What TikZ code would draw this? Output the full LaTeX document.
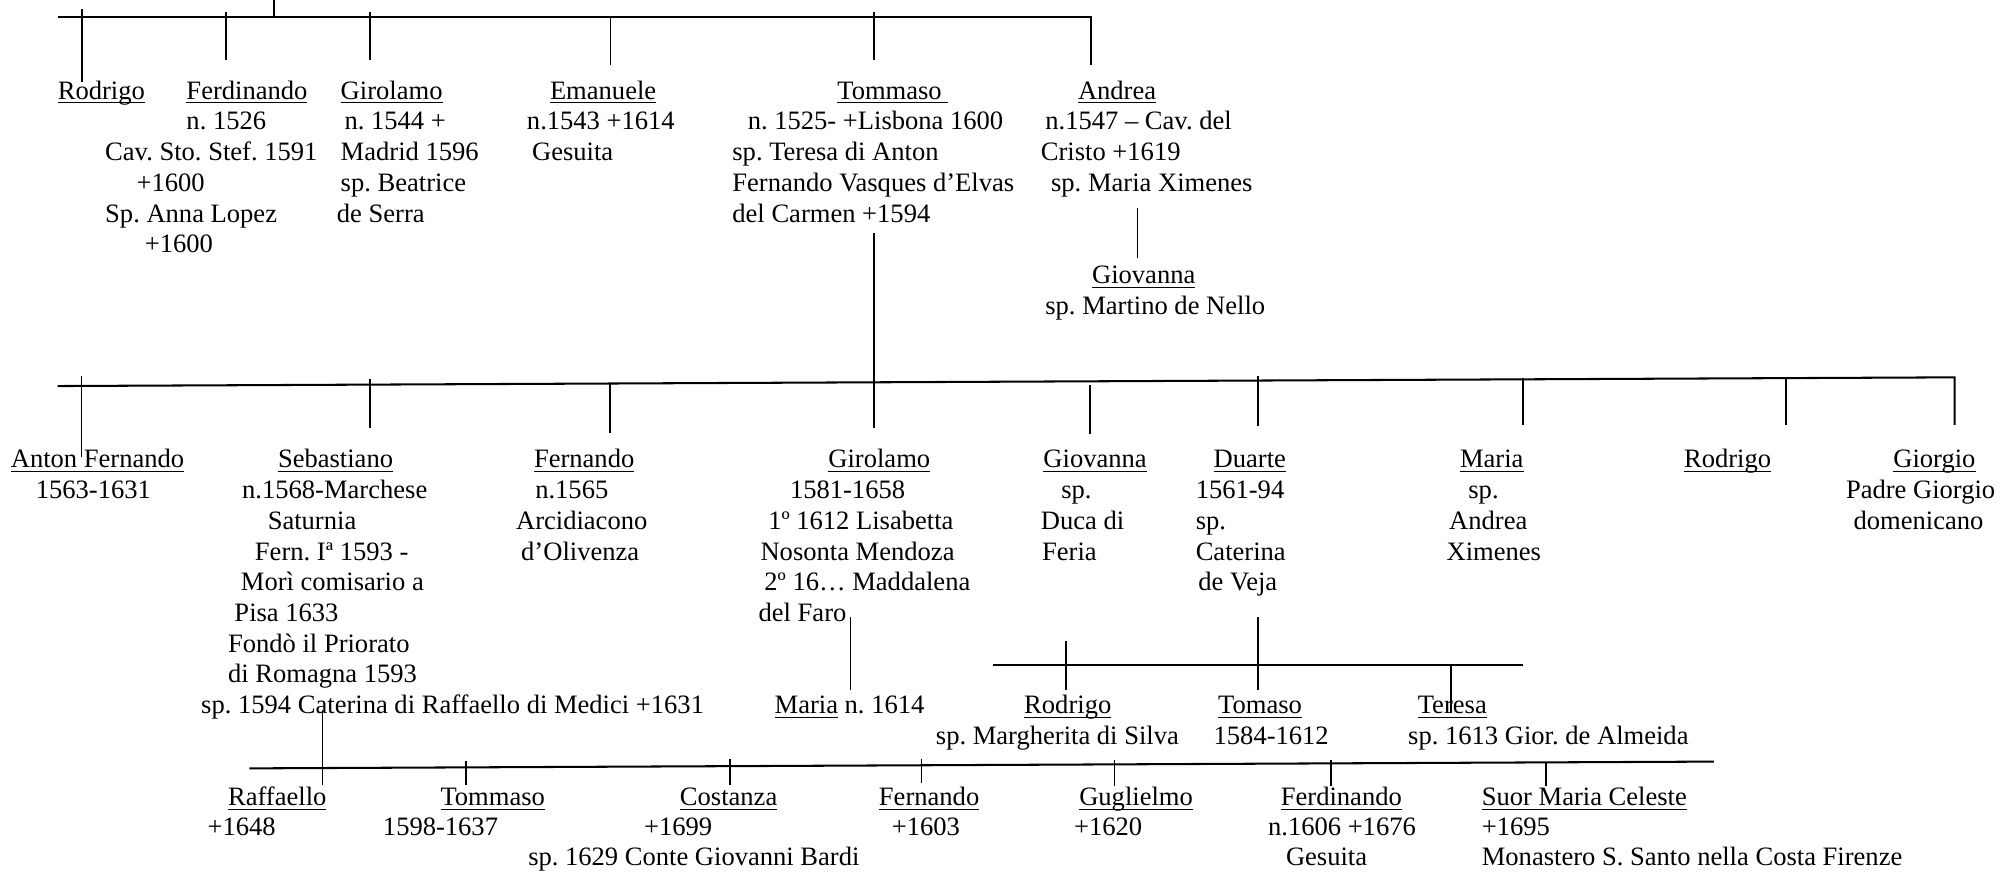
\documentclass[tikz,border=0pt]{standalone}
\usepackage{fontspec}
\setmainfont{Liberation Serif}
\frenchspacing
\newcommand\uln[1]{\setbox0=\hbox{#1}\rlap{\rule[-3.3pt]{\wd0}{0.9pt}}\box0\relax}
\newcommand\ind[1]{\hspace*{#1pt}}
\newcommand\blk[2][24]{\vtop{\baselineskip=#1pt\lineskiplimit=-100pt\lineskip=0pt\halign{##\hfil\cr#2\crcr}}}
\begin{document}
\begin{tikzpicture}[x=1pt,y=-1pt,
  person/.style={anchor=base west, inner sep=0pt, font=\fontsize{20.75}{24}\selectfont},
  bus/.style={line width=1.6pt},
  stem/.style={line width=1.3pt}]
\useasboundingbox (0,0) rectangle (1568,681);

% ---------- generation 1 ----------
\node[person] (rodrigoA) at (45,77.5) {\uln{Rodrigo}};
\node[person] (ferdinandoA) at (82,77.5) {\blk{\ind{63.5}\uln{Ferdinando}\cr \ind{63.5}n. 1526\cr Cav. Sto. Stef. 1591\cr \ind{24.5}+1600\cr Sp. Anna Lopez\cr \ind{31}+1600}};
\node[person] (girolamoA) at (263,77.5) {\blk{\ind{3}\uln{Girolamo}\cr \ind{6}n. 1544 +\cr \ind{3}Madrid 1596\cr \ind{3}sp. Beatrice\cr de Serra}};
\node[person] (emanueleA) at (411.5,77.5) {\blk{\ind{18}\uln{Emanuele}\cr n.1543 +1614\cr \ind{4}Gesuita}};
\node[person] (tommasoA) at (572,77.5) {\blk{\ind{82}\uln{Tommaso\ }\cr \ind{12}n. 1525- +Lisbona 1600\cr sp. Teresa di Anton\cr Fernando Vasques d’Elvas\cr del Carmen +1594}};
\node[person] (andreaA) at (813,77.5) {\blk{\ind{29}\uln{Andrea}\cr \ind{3.5}n.1547 – Cav. del\cr Cristo +1619\cr \ind{8}sp. Maria Ximenes}};
\node[person] (giovannaA) at (816.5,221.5) {\blk{\ind{36.5}\uln{Giovanna}\cr sp. Martino de Nello}};

% ---------- generation 2 ----------
\node[person] (antonB) at (8.3,365.5) {\blk{\uln{Anton Fernando}\cr \ind{19.5}1563-1631}};
\node[person] (sebastianoB) at (157,365.5) {\blk{\ind{60}\uln{Sebastiano}\cr \ind{32}n.1568-Marchese\cr \ind{52}Saturnia\cr \ind{42}Fern. Iª 1593 -\cr \ind{31}Morì comisario a\cr \ind{26}Pisa 1633\cr \ind{21}Fondò il Priorato\cr \ind{21}di Romagna 1593\cr sp. 1594 Caterina di Raffaello di Medici +1631}};
\node[person] (fernandoB) at (403,365.5) {\blk{\ind{14}\uln{Fernando}\cr \ind{15}n.1565\cr Arcidiacono\cr \ind{4}d’Olivenza}};
\node[person] (girolamoB) at (592.5,365.5) {\blk{\ind{54.5}\uln{Girolamo}\cr \ind{24.5}1581-1658\cr \ind{7.5}1º 1612 Lisabetta\cr \ind{1.5}Nosonta Mendoza\cr \ind{4.5}2º 16… Maddalena\cr del Faro}};
\node[person] (giovannaB) at (813,365.5) {\blk{\ind{2}\uln{Giovanna}\cr \ind{16}sp.\cr Duca di\cr \ind{1}Feria}};
\node[person] (duarteB) at (934,365.5) {\blk{\ind{14}\uln{Duarte}\cr 1561-94\cr sp.\cr Caterina\cr \ind{2}de Veja}};
\node[person] (mariaB) at (1130,365.5) {\blk{\ind{10.5}\uln{Maria}\cr \ind{17}sp.\cr \ind{2}Andrea\cr Ximenes}};
\node[person] (rodrigoB) at (1315.5,365.5) {\uln{Rodrigo}};
\node[person] (giorgioB) at (1442,365.5) {\blk{\ind{37}\uln{Giorgio}\cr Padre Giorgio\cr \ind{6}domenicano}};

% ---------- generation 3 (Girolamo, Duarte) ----------
\node[person] (mariaC) at (605,557.5) {\uln{Maria} n. 1614};
\node[person] (rodrigoC) at (731,557.5) {\blk{\ind{69}\uln{Rodrigo}\cr sp. Margherita di Silva}};
\node[person] (tomasoC) at (948,557.5) {\blk{\ind{3.5}\uln{Tomaso}\cr 1584-1612}};
\node[person] (teresaC) at (1100,557.5) {\blk{\ind{7.5}\uln{Teresa}\cr sp. 1613 Gior. de Almeida}};

% ---------- generation 3 (Sebastiano) ----------
\node[person] (raffaelloD) at (162,629.5) {\blk[23.5]{\ind{16}\uln{Raffaello}\cr +1648}};
\node[person] (tommasoD) at (299,629.5) {\blk[23.5]{\ind{45}\uln{Tommaso}\cr 1598-1637}};
\node[person] (costanzaD) at (412.5,629.5) {\blk[23.5]{\ind{118.5}\uln{Costanza}\cr \ind{90.5}+1699\cr sp. 1629 Conte Giovanni Bardi}};
\node[person] (fernandoD) at (686.5,629.5) {\blk[23.5]{\uln{Fernando}\cr \ind{10}+1603}};
\node[person] (guglielmoD) at (839,629.5) {\blk[23.5]{\ind{4}\uln{Guglielmo}\cr +1620}};
\node[person] (ferdinandoD) at (990.5,629.5) {\blk[23.5]{\ind{10}\uln{Ferdinando}\cr n.1606 +1676\cr \ind{14}Gesuita}};
\node[person] (suorD) at (1157.5,629.5) {\blk[23.5]{\uln{Suor Maria Celeste}\cr +1695\cr Monastero S. Santo nella Costa Firenze}};

% ---------- buses ----------
\coordinate (busA-l) at (45,13.5);
\coordinate (busA-r) at (852.4,13.5);
\coordinate (busA-e) at (852.4,50.8);
\draw[bus] (busA-l) -- (busA-r) -- (busA-e);

\coordinate (busB-l) at (45,301.6);
\coordinate (busB-r) at (1527,294.8);
\coordinate (busB-e) at (1527,332);
\draw[bus] (busB-l) -- (busB-r) -- (busB-e);

\coordinate (busC-l) at (776,519.5);
\coordinate (busC-r) at (1189.6,519.5);
\draw[bus] (busC-l) -- (busC-r);

\coordinate (busD-l) at (194.8,600.3);
\coordinate (busD-r) at (1339,595);
\draw[bus] (busD-l) -- (busD-r);

% ---------- stems ----------
\foreach \n/\x/\ya/\yb in {
  stA0/214/0/13.5, stA1/64/7/64, stA2/176.6/9/47, stA3/289/9/47, stA4/477/13.5/51,
  stA5/683/9/47, stA6/888.7/162.8/201.8, stT/683/182.3/334.6,
  stB1/63.6/294/356.8, stB2/289/296.4/334.6, stB3/476.4/300/338.5,
  stB5/851.5/300.8/339, stB6/983/294/332.6, stB7/1189.6/295/332, stB8/1395.5/295/332,
  stC0/664.5/481.8/539, stC1/983/482/539, stC2/833/500.8/539, stC3/1133.6/519.5/557,
  stD0/252/554.7/613.3, stD1/364/594.5/613, stD2/570.5/593/613, stD3/720/593/612,
  stD4/870.6/594/614, stD5/1039.7/594/614, stD6/1208/595/614} {
  \coordinate (\n-t) at (\x,\ya);
  \coordinate (\n-b) at (\x,\yb);
  \draw[stem] (\n-t) -- (\n-b);
}
\end{tikzpicture}
\end{document}
